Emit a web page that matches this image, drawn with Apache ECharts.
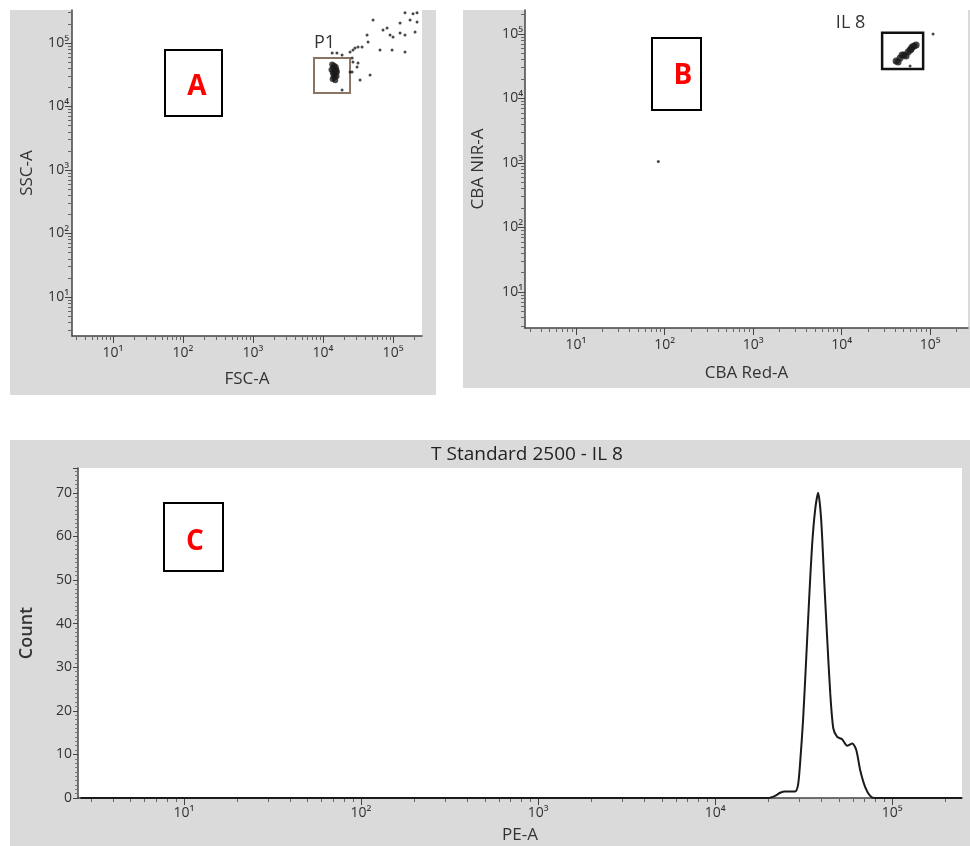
<!DOCTYPE html>
<html><head><meta charset="utf-8">
<script src="https://cdn.jsdelivr.net/npm/echarts@6/dist/echarts.min.js"></script>
<style>html,body{margin:0;padding:0;background:#fff}#c{width:970px;height:846px}</style>
</head><body><div id="c"></div><script>
// ---------- data ----------
const decadeValues = [10, 100, 1000, 10000, 100000];
const decadeLabels = ['10¹', '10²', '10³', '10⁴', '10⁵'];
const countTicks = [0, 10, 20, 30, 40, 50, 60, 70];

// Panel A: FSC-A vs SSC-A events
const fscA = [13500,14400,15200,14000,15500,14800,13800,15000,14200,15600,14600,13700,14900,13200,15800,
  13500,15800,18700,24300,26800,28600,31600,42500,44000,51800,71900,82100,90600,100000,126000,148000,126000,
  65100,46900,33800,26000,26800,30600,18700,220000,175000,206000,148000,96800,36100,148000,220000,193000,
  26000,31600,24300];
const sscA = [46000,44000,42000,40000,38000,36000,34000,33000,31000,30000,28500,27000,26000,38000,35000,
  69600,69600,64700,72100,77600,83400,86500,134000,104000,230000,160000,172000,134000,124000,206000,72100,144000,
  77600,31300,26100,34900,50200,41900,18200,214000,230000,149000,134000,77600,86500,300000,300000,290000,
  58100,48400,34900];
const blobCount = 15; // first events form the dense P1 cluster
const p1Gate = { x: [7430, 24300], y: [16300, 58100] };

// Panel B: CBA Red-A vs CBA NIR-A events
const cbaRed = [41300,45800,50800,56400,61000,65900,69500,48300,53500,59400,43500,62700,59400,108000,85];
const cbaNir = [38100,42500,47200,52600,58500,65100,67400,47200,45600,56500,36800,62800,31900,100000,1050];
const il8Count = 12; // first events form the IL 8 cluster
const il8Gate = { x: [28700, 83400], y: [28600, 104000] };

// Panel C: PE-A histogram (count)
const peA = [2.6,20000,21800,23300,24800,28300,29400,30200,31400,32700,34000,35300,36700,38200,39700,41300,
  42900,44700,46500,48900,52200,55700,59500,62700,65900,70400,75100,80100,248000];
const peCount = [0,0,0.5,1.2,1.5,1.5,3,8,18,32,46,58,66,70,64,50,37,24,16,14,13.5,12,12.5,11,6.5,2.5,0.5,0,0];

// ---------- helpers ----------
const FONT = "'Open Sans', 'DejaVu Sans', sans-serif";
const TXT = '#333';
function minorVals(min, max) {
  const v = [];
  for (let k = -1; k <= 6; k++) for (let m = 1; m < 10; m++) {
    const x = m * Math.pow(10, k);
    if (x >= min && x <= max) v.push(x);
  }
  return v;
}
function fmtDecade(v) {
  let best = 0, d = Infinity;
  decadeValues.forEach((dv, i) => { const e = Math.abs(Math.log10(v) - Math.log10(dv)); if (e < d) { d = e; best = i; } });
  return d < 0.01 ? decadeLabels[best] : '';
}
function logAxes(dim, grid, min, max, name, gap, margin, nameFont) {
  const pos = dim === 'x' ? 'bottom' : 'left';
  const base = { type: 'log', logBase: 10, gridIndex: grid, min, max, position: pos, offset: 0,
    splitLine: { show: false } };
  return [
    Object.assign({}, base, {
      name, nameLocation: 'middle', nameGap: gap,
      nameTextStyle: { color: TXT, fontSize: nameFont || 17, fontFamily: FONT },
      axisLine: { show: true, lineStyle: { color: '#444', width: 1.5 } },
      axisTick: { show: true, inside: false, length: 4, customValues: minorVals(min, max), lineStyle: { color: '#666', width: 1 } },
      axisLabel: { show: false }
    }),
    Object.assign({}, base, {
      axisLine: { show: false },
      axisTick: { show: true, inside: false, length: 7, customValues: decadeValues, lineStyle: { color: '#444', width: 1 } },
      axisLabel: { show: true, customValues: decadeValues, formatter: fmtDecade, margin, color: TXT, fontSize: 14, fontFamily: FONT }
    })
  ];
}

const A = { left: 72, top: 10, width: 350, height: 326 };
const B = { left: 525, top: 10, width: 443, height: 318 };
const C = { left: 78, top: 468, width: 884, height: 330 };

const xAxes = [].concat(
  logAxes('x', 0, 2.6, 259000, 'FSC-A', 35, 10),
  logAxes('x', 1, 2.65, 268000, 'CBA Red-A', 37, 10),
  logAxes('x', 2, 2.52, 248000, 'PE-A', 29, 8)
);
const yAxes = [].concat(
  logAxes('y', 0, 2.43, 331000, 'SSC-A', 36, 3),
  logAxes('y', 1, 2.77, 235000, 'CBA NIR-A', 38, 2),
  [{
    type: 'value', gridIndex: 2, min: 0, max: 75.7, interval: 10, position: 'left',
    name: 'Count', nameLocation: 'middle', nameGap: 42,
    nameTextStyle: { color: TXT, fontSize: 18, fontFamily: FONT, fontWeight: 600 },
    axisLine: { show: true, lineStyle: { color: '#444', width: 1.5 } },
    axisTick: { show: true, length: 5, lineStyle: { color: '#444' } },
    minorTick: { show: true, splitNumber: 10, length: 3, lineStyle: { color: '#777' } },
    splitLine: { show: false },
    axisLabel: { margin: 6, color: TXT, fontSize: 14, fontFamily: FONT, showMaxLabel: false,
      formatter: v => (countTicks.indexOf(v) >= 0 ? String(v) : '') }
  }]
);

const eventsA = fscA.map((x, i) => ({ value: [x, sscA[i]], symbolSize: i < blobCount ? 6 : 3 }));
const eventsB = cbaRed.map((x, i) => ({ value: [x, cbaNir[i]], symbolSize: i < il8Count ? 7 : 3 }));
const hist = peA.map((x, i) => [x, peCount[i]]);

function labelBox(x, y, w, h, letter, tx, ty) {
  return [
    { type: 'rect', shape: { x, y, width: w, height: h }, style: { fill: '#fff', stroke: '#000', lineWidth: 2 }, z: 50 },
    { type: 'text', x: tx, y: ty, style: { text: letter, fill: '#ff0000', font: "bold 28px 'Open Sans', sans-serif", textAlign: 'center', textVerticalAlign: 'middle' }, z: 51 }
  ];
}

const option = {
  animation: false,
  backgroundColor: '#fff',
  title: { text: 'T Standard 2500 - IL 8', left: 522, top: 440, textAlign: 'center',
    textStyle: { color: '#222', fontSize: 19, fontWeight: 'normal', fontFamily: FONT } },
  grid: [
    Object.assign({ show: true, backgroundColor: '#fff', borderWidth: 0, containLabel: false }, A),
    Object.assign({ show: true, backgroundColor: '#fff', borderWidth: 0, containLabel: false }, B),
    Object.assign({ show: true, backgroundColor: '#fff', borderWidth: 0, containLabel: false }, C)
  ],
  xAxis: xAxes,
  yAxis: yAxes,
  series: [
    { type: 'scatter', xAxisIndex: 0, yAxisIndex: 0, data: eventsA, symbol: 'circle',
      itemStyle: { color: '#1a1a1a' }, clip: true,
      markArea: { silent: true, itemStyle: { color: 'rgba(0,0,0,0)', borderColor: '#8a7565', borderWidth: 2 },
        label: { show: true, position: [1, -23], color: '#333', fontSize: 18, fontFamily: FONT },
        data: [[{ name: 'P1', coord: [p1Gate.x[0], p1Gate.y[1]] }, { coord: [p1Gate.x[1], p1Gate.y[0]] }]] } },
    { type: 'scatter', xAxisIndex: 2, yAxisIndex: 2, data: eventsB, symbol: 'circle',
      itemStyle: { color: '#1a1a1a' },
      markArea: { silent: true, itemStyle: { color: 'rgba(0,0,0,0)', borderColor: '#111', borderWidth: 2.5 },
        label: { show: true, position: [-45, -18], color: '#333', fontSize: 18, fontFamily: FONT },
        data: [[{ name: 'IL 8', coord: [il8Gate.x[0], il8Gate.y[1]] }, { coord: [il8Gate.x[1], il8Gate.y[0]] }]] } },
    { type: 'line', xAxisIndex: 4, yAxisIndex: 4, data: hist, showSymbol: false, smooth: 0.25,
      lineStyle: { color: '#1a1a1a', width: 2 }, z: 5 }
  ],
  graphic: [
    { type: 'rect', shape: { x: 10, y: 10, width: 426, height: 385 }, style: { fill: '#dadada' }, z: -10 },
    { type: 'rect', shape: { x: 463, y: 10, width: 507, height: 378 }, style: { fill: '#dadada' }, z: -10 },
    { type: 'rect', shape: { x: 10, y: 440, width: 960, height: 406 }, style: { fill: '#dadada' }, z: -10 }
  ].concat(
    labelBox(165, 50, 57, 66, 'A', 197, 87),
    labelBox(652, 38, 49, 72, 'B', 683, 76),
    labelBox(164, 503, 59, 68, 'C', 195, 542)
  )
};

const chart = echarts.init(document.getElementById('c'), null, { renderer: 'canvas' });
chart.setOption(option);
</script></body></html>
